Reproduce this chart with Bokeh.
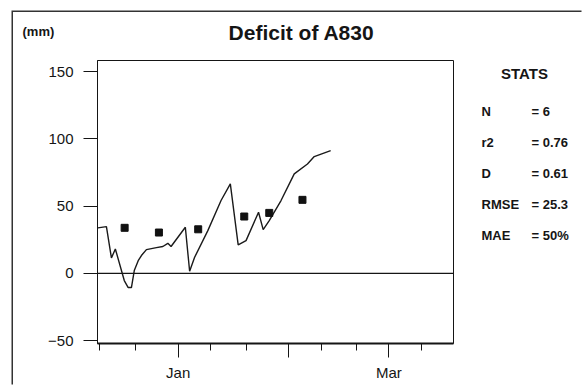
from bokeh.plotting import figure
from bokeh.models import Span, Label, FixedTicker, Range1d
from bokeh.embed import file_html
from bokeh.resources import INLINE

# ---- data (days relative to 1 January) ----
sim_days = [-22.5, -20.1, -18.7, -17.6, -15.1, -14.0, -13.1, -12.3, -11.2, -10.3,
            -8.9, -6.1, -4.3, -2.9, -2.0, 2.0, 3.2, 4.6, 8.3, 12.0, 14.6, 16.8,
            19.0, 22.5, 23.8, 25.5, 28.8, 32.5, 36.2, 38.1, 42.7]
sim_deficit = [33.8, 34.7, 11.4, 18.1, -5.4, -10.6, -10.6, 2.0, 9.4, 13.2,
               17.6, 19.1, 19.9, 22.3, 19.9, 34.2, 1.5, 11.9, 31.7, 54.1, 66.5, 21.1,
               24.3, 45.4, 32.5, 39.2, 54.1, 73.9, 81.3, 86.8, 91.2]
obs_days = [-15.0, -5.4, 5.6, 18.5, 25.5, 34.8]
obs_deficit = [33.8, 30.3, 32.7, 42.2, 44.9, 54.6]

month_days = [0, 31, 59]
month_labels = ["Jan", "", "Mar"]
minor_days = [-22, -12, 9, 19, 40, 50, 68]
y_ticks = [-50, 0, 50, 100, 150]

title_text = "Deficit of A830"
unit_text = "(mm)"
stats_title = "STATS"
stat_names = ["N", "r2", "D", "RMSE", "MAE"]
stat_values = ["= 6", "= 0.76", "= 0.61", "= 25.3", "= 50%"]

FONT = "Liberation Sans"
INK = "#151515"

p = figure(width=570, height=374, output_backend="svg", toolbar_location=None,
           x_range=Range1d(-22.6, 77.1), y_range=Range1d(-52.2, 158.2),
           min_border_left=83, min_border_top=48, min_border_right=130,
           min_border_bottom=43)
p.margin = (12, 0, 0, 13)
p.styles = {"box-shadow": "-1.5px -1.5px 0px 0px #333333"}
p.background_fill_color = "white"
p.border_fill_color = "white"
p.outline_line_color = INK
p.outline_line_width = 1
p.xgrid.visible = False
p.ygrid.visible = False

# axes
p.yaxis.ticker = FixedTicker(ticks=y_ticks)
p.yaxis.major_tick_out = 14
p.yaxis.major_tick_in = 0
p.yaxis.minor_tick_out = 0
p.yaxis.minor_tick_in = 0
p.yaxis.major_label_standoff = 10
p.yaxis.axis_line_color = INK
p.yaxis.major_tick_line_color = INK
p.yaxis.major_label_text_font = FONT
p.yaxis.major_label_text_font_size = "15px"
p.yaxis.major_label_text_color = INK

p.xaxis.ticker = FixedTicker(ticks=month_days, minor_ticks=minor_days)
p.xaxis.major_label_overrides = {d: lab for d, lab in zip(month_days, month_labels)}
p.xaxis.major_tick_out = 14
p.xaxis.major_tick_in = 0
p.xaxis.minor_tick_out = 7
p.xaxis.minor_tick_in = 0
p.xaxis.major_label_standoff = 6
p.xaxis.axis_line_width = 2
p.xaxis.axis_line_color = INK
p.xaxis.major_tick_line_color = INK
p.xaxis.minor_tick_line_color = INK
p.xaxis.major_label_text_font = FONT
p.xaxis.major_label_text_font_size = "15px"
p.xaxis.major_label_text_color = INK

# zero line
p.add_layout(Span(location=0, dimension="width", line_color=INK, line_width=1.2))

# data
p.line(sim_days, sim_deficit, line_color="#1a1a1a", line_width=1.4)
p.scatter(obs_days, obs_deficit, marker="square", size=7, fill_color="#111111",
          line_color="#111111")


def lab(txt, x, y, size, align="left", bold=True, **kw):
    return Label(x=x, y=y, x_units="canvas", y_units="canvas", text=txt,
                 text_font=FONT, text_font_size=size,
                 text_font_style="bold" if bold else "normal",
                 text_align=align, text_baseline="middle", text_color=INK, **kw)


# texts (placed in side panels so they are not clipped by the frame)
p.add_layout(lab(title_text, 288, 20, "21px", align="center"), "above")
p.add_layout(lab(stats_title, 511, 61, "15px", align="center"), "above")
p.add_layout(lab(unit_text, 9, 19, "13px"), "left")
p.add_layout(lab("\n".join(stat_names), 468, 161, "13px", text_line_height=2.07), "right")
p.add_layout(lab("\n".join(stat_values), 518, 161, "13px", text_line_height=2.07), "right")

open("out.html", "w").write(file_html(p, INLINE))
